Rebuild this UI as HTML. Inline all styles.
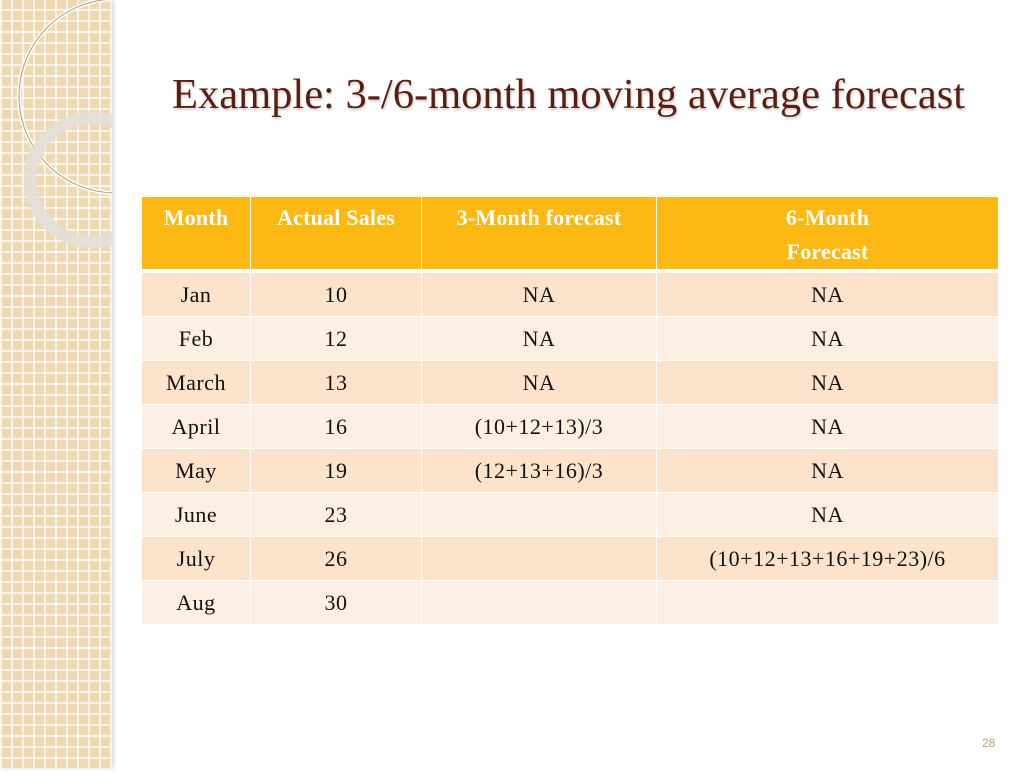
<!DOCTYPE html>
<html><head><meta charset="utf-8"><style>
body{margin:0;width:1024px;height:768px;background:#fff;position:relative;overflow:hidden;font-family:"Liberation Serif",serif}
#strip{position:absolute;left:0;top:0;width:112px;height:768px;background-color:#efd9b3;
background-image:linear-gradient(90deg,rgba(255,255,255,.7) 2px,transparent 2px),linear-gradient(0deg,rgba(255,255,255,.7) 2px,transparent 2px);
background-size:11px 11px;box-shadow:2px 0 4px rgba(0,0,0,.15)}
#title{position:absolute;left:172px;top:70px;font-size:42.5px;color:#5a1f10;white-space:nowrap;text-shadow:1px 2px 2px rgba(0,0,0,.2)}
table{position:absolute;left:141px;top:196px;border-collapse:collapse;font-size:22px;letter-spacing:0.5px;color:#111}
td,th{border:1px solid #fff;text-align:center;padding:0;height:43px}
th{background:#fdb813;color:#fff;font-weight:bold;vertical-align:top;height:74px;padding-top:4px;box-sizing:border-box;border-bottom:4px solid #fff;line-height:34px;letter-spacing:0.2px}
tr.o td{background:#fde3cc}tr.e td{background:#feefe4}
#pn{position:absolute;left:982px;top:736px;font-family:"Liberation Sans",sans-serif;font-size:12px;color:#c89a6a}
</style></head><body>
<div id="strip">
<svg width="112" height="768"><circle cx="116" cy="96" r="97" fill="none" stroke="#fff" stroke-width="4"/><circle cx="116" cy="96" r="97" fill="none" stroke="#b49a78" stroke-width="1"/><circle cx="92" cy="180" r="62" fill="none" stroke="#e2ded8" stroke-width="13" opacity=".85"/></svg>
</div>
<div id="title">Example: 3-/6-month moving average forecast</div>
<table>
<tr><th style="width:109px">Month</th><th style="width:171px">Actual Sales</th><th style="width:235px">3-Month forecast</th><th style="width:342px">6-Month<br>Forecast</th></tr>
<tr class="o"><td>Jan</td><td>10</td><td>NA</td><td>NA</td></tr>
<tr class="e"><td>Feb</td><td>12</td><td>NA</td><td>NA</td></tr>
<tr class="o"><td>March</td><td>13</td><td>NA</td><td>NA</td></tr>
<tr class="e"><td>April</td><td>16</td><td>(10+12+13)/3</td><td>NA</td></tr>
<tr class="o"><td>May</td><td>19</td><td>(12+13+16)/3</td><td>NA</td></tr>
<tr class="e"><td>June</td><td>23</td><td></td><td>NA</td></tr>
<tr class="o"><td>July</td><td>26</td><td></td><td>(10+12+13+16+19+23)/6</td></tr>
<tr class="e"><td>Aug</td><td>30</td><td></td><td></td></tr>
</table>
<div id="pn">28</div>
</body></html>
